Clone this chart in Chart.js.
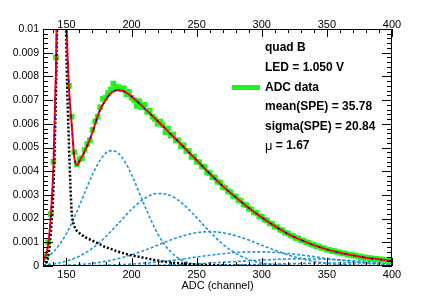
<!DOCTYPE html>
<html>
<head>
<meta charset="utf-8">
<script src="https://cdn.jsdelivr.net/npm/chart.js@4.4.1/dist/chart.umd.min.js"></script>
<style>
  html, body { margin: 0; padding: 0; background: #fff; }
  canvas { display: block; }
</style>
</head>
<body>
<canvas id="adcChart" width="436" height="297"></canvas>
<script>
// channel grid the fit functions are sampled on
var chan = [132, 134, 136, 138, 140, 142, 144, 146, 148, 150, 152, 154, 156, 158, 160,
  165, 170, 175, 180, 185, 190, 195, 200, 210, 220, 230, 240, 250, 260, 270, 280,
  290, 300, 310, 320, 330, 340, 350, 360, 370, 380, 390, 400];

// total fit (red)
var fitTotal = [0.0002, 0.00045, 0.0009, 0.0021, 0.0042, 0.0084, 0.015, 0.019, 0.017, 0.0104,
  0.0075, 0.006, 0.0046, 0.00425, 0.00442, 0.00495, 0.00565, 0.00648, 0.007, 0.00733,
  0.00743, 0.00735, 0.00715, 0.00665, 0.00612, 0.00557, 0.00502, 0.00446, 0.0039, 0.00337,
  0.0029, 0.00245, 0.00205, 0.00168, 0.00136, 0.0011, 0.00088, 0.0007, 0.00056, 0.00045,
  0.00035, 0.00028, 0.00021];

// pedestal (black dotted)
var pedestal = [0, 0.0001, 0.0004, 0.0014, 0.0033, 0.0075, 0.014, 0.018, 0.016, 0.009,
  0.005, 0.0023, 0.0017, 0.00148, 0.00138, 0.0012, 0.00107, 0.00093, 0.0008, 0.0007,
  0.0006, 0.00052, 0.00045, 0.00034, 0.00023, 0.00015, 0.0001, 0.00006, 0.00004, 0.00002,
  0.00001, 0.000005, 0, 0, 0, 0, 0, 0, 0, 0, 0, 0, 0];

// n photo-electron components (light blue dashed)
var pe1 = [0.0002, 0.00033, 0.00041, 0.0005, 0.0006, 0.00072, 0.00086, 0.00101, 0.00118, 0.00137,
  0.00158, 0.0018, 0.00204, 0.00229, 0.00255, 0.00322, 0.00386, 0.00439, 0.00475, 0.00487,
  0.00475, 0.00439, 0.00386, 0.00255, 0.00137, 0.0006, 0.00021, 0.00006, 0.000015, 0,
  0, 0, 0, 0, 0, 0, 0, 0, 0, 0, 0, 0, 0];
var pe2 = [0.000045, 0.000055, 0.000065, 0.000078, 0.000093, 0.00011, 0.00013, 0.000152, 0.000178, 0.000207,
  0.00024, 0.000277, 0.000318, 0.000364, 0.000415, 0.000566, 0.000752, 0.000973, 0.001226, 0.00151,
  0.0018, 0.0021, 0.00239, 0.00285, 0.00306, 0.00297, 0.00259, 0.00204, 0.00145, 0.000926,
  0.000534, 0.000277, 0.00013, 0.000055, 0.000021, 0.000007, 0, 0, 0, 0, 0, 0, 0];
var pe3 = [0.000009, 0.00001, 0.000011, 0.000013, 0.000016, 0.000018, 0.000021, 0.000024, 0.000028, 0.000033,
  0.000037, 0.000042, 0.000048, 0.000056, 0.000064, 0.000086, 0.000115, 0.000151, 0.000196, 0.00025,
  0.000314, 0.000387, 0.000471, 0.000664, 0.00088, 0.001095, 0.00128, 0.001405, 0.00145, 0.001405,
  0.00128, 0.001095, 0.00088, 0.000664, 0.000471, 0.000314, 0.000196, 0.000115, 0.000064, 0.000033,
  0.000016, 0.000007, 0.000003];
var pe4 = [0.000002, 0.000002, 0.000002, 0.000003, 0.000003, 0.000004, 0.000004, 0.000005, 0.000005, 0.000006,
  0.000007, 0.000008, 0.000009, 0.00001, 0.000011, 0.000015, 0.000019, 0.000025, 0.000032, 0.000041,
  0.000052, 0.000066, 0.000081, 0.000121, 0.000171, 0.000233, 0.000304, 0.000379, 0.000453, 0.000518,
  0.000568, 0.000595, 0.000598, 0.000575, 0.000529, 0.000467, 0.000394, 0.000319, 0.000247, 0.000183,
  0.00013, 0.000088, 0.000057];
var pe5 = [0.0000002, 0.0000003, 0.0000004, 0.0000005, 0.0000006, 0.0000007, 0.0000008, 0.0000008, 0.0000009, 0.0000009,
  0.000001, 0.0000011, 0.0000013, 0.0000015, 0.0000017, 0.0000023, 0.000003, 0.000004, 0.0000052, 0.0000068,
  0.0000087, 0.000011, 0.000014, 0.000022, 0.000033, 0.000049, 0.000069, 0.000093, 0.000122, 0.000155,
  0.000189, 0.000222, 0.000253, 0.000277, 0.000294, 0.0003, 0.000296, 0.000281, 0.000258, 0.000229,
  0.000196, 0.000161, 0.000129];
var pe6 = [0, 0, 0, 0, 0, 0, 0, 0, 0, 0, 0, 0, 0, 0, 0, 0.0000004, 0.0000006, 0.0000008, 0.000001, 0.0000012,
  0.0000014, 0.0000018, 0.0000022, 0.0000035, 0.0000055, 0.0000083, 0.0000123, 0.0000176, 0.0000245, 0.000033,
  0.000043, 0.000055, 0.000068, 0.000082, 0.000095, 0.000107, 0.000118, 0.000125, 0.000129, 0.00013,
  0.000126, 0.000119, 0.000109];

// ADC data points (green squares)
var dataChan = [134, 136, 138, 140, 142, 144, 146, 148, 150, 152, 154, 156, 158, 160, 162, 164, 166,
  168, 170, 172, 174, 176, 178, 180, 182, 184, 186, 188, 190, 192, 194, 196, 198, 200, 202, 204,
  206, 208, 210, 212, 214, 216, 218, 220, 222, 224, 226, 228, 230, 232, 234, 236, 238, 240, 242,
  244, 246, 248, 250, 252, 254, 256, 258, 260, 262, 264, 266, 268, 270, 272, 274, 276, 278, 280,
  282, 284, 286, 288, 290, 292, 294, 296, 298, 300, 302, 304, 306, 308, 310, 312, 314, 316, 318,
  320, 322, 324, 326, 328, 330, 332, 334, 336, 338, 340, 342, 344, 346, 348, 350, 352, 354, 356,
  358, 360, 362, 364, 366, 368, 370, 372, 374, 376, 378, 380, 382, 384, 386, 388, 390, 392, 394,
  396, 398, 400];
var dataVal = [0.0004, 0.001, 0.0022, 0.0044, 0.0088, 0.0152, 0.0191, 0.0171, 0.0106, 0.0076,
  0.0063, 0.0048, 0.0043, 0.0045, 0.00455, 0.0049, 0.00515, 0.0053, 0.00575, 0.0061,
  0.0063, 0.0067, 0.00705, 0.0071, 0.0073, 0.00745, 0.0077, 0.0075, 0.00755, 0.00745,
  0.0075, 0.00725, 0.00735, 0.0071, 0.007, 0.00675, 0.00695, 0.0067, 0.0068, 0.0065,
  0.00655, 0.0063, 0.0062, 0.006, 0.0061, 0.00595, 0.00565, 0.0058, 0.0055, 0.00555,
  0.0053, 0.0053, 0.00505, 0.0051, 0.00485, 0.00485, 0.0046, 0.00462, 0.0044, 0.00438,
  0.0042, 0.00418, 0.00395, 0.00392, 0.00375, 0.00373, 0.00355, 0.00352, 0.00333, 0.0033,
  0.00315, 0.00312, 0.00295, 0.00293, 0.00278, 0.00275, 0.0026, 0.00257, 0.00242, 0.00239,
  0.00226, 0.00224, 0.0021, 0.00208, 0.00195, 0.00193, 0.0018, 0.00178, 0.00166, 0.00164,
  0.00153, 0.00151, 0.0014, 0.00138, 0.00129, 0.00127, 0.00118, 0.00117, 0.00108, 0.00107,
  0.001, 0.00098, 0.00091, 0.00089, 0.00083, 0.00082, 0.00076, 0.00075, 0.00069, 0.00068,
  0.00063, 0.00063, 0.00058, 0.00057, 0.00053, 0.00053, 0.00048, 0.00048, 0.00044, 0.00044,
  0.0004, 0.0004, 0.00036, 0.00036, 0.00033, 0.00033, 0.0003, 0.0003, 0.00027, 0.00028,
  0.00024, 0.00025, 0.00022, 0.00021];

var xTicks = [150, 200, 250, 300, 350, 400];
var yTicks = [0, 0.001, 0.002, 0.003, 0.004, 0.005, 0.006, 0.007, 0.008, 0.009, 0.01];
var yTickLabels = ["0", "0.001", "0.002", "0.003", "0.004", "0.005", "0.006", "0.007", "0.008", "0.009", "0.01"];
var infoLines = ["quad B", "LED = 1.050 V", "ADC data", "mean(SPE) = 35.78", "sigma(SPE) = 20.84"];
var muLabel = ["\u03bc", " = 1.67"];

var FONT = '"Liberation Sans", Arial, Helvetica, sans-serif';
var GREEN = "rgb(30,245,30)";
var PE_BLUE = "rgb(30,152,212)";

function pts(xs, ys) {
  return xs.map(function (x, i) { return { x: x, y: ys[i] }; });
}

function peSet(label, vals) {
  return {
    label: label, data: pts(chan, vals), borderColor: PE_BLUE, borderWidth: 1.6,
    borderDash: [3, 2], pointRadius: 0, fill: false, cubicInterpolationMode: "monotone", order: 5
  };
}

// ROOT style frame with inner ticks plus the text box
var rootFrame = {
  id: "rootFrame",
  afterDatasetsDraw: function (chart) {
    var c = chart.ctx, a = chart.chartArea, xs = chart.scales.x, ys = chart.scales.y;
    c.save();
    c.strokeStyle = "#000";
    c.lineWidth = 1;
    c.strokeRect(a.left + 0.5, a.top + 0.5, a.right - a.left - 1, a.bottom - a.top - 1);
    c.beginPath();
    for (var v = 140; v <= 400; v += 10) {
      var px = Math.round(xs.getPixelForValue(v)) + 0.5;
      var len = v % 50 === 0 ? 8 : 4;
      c.moveTo(px, a.bottom); c.lineTo(px, a.bottom - len);
      c.moveTo(px, a.top); c.lineTo(px, a.top + len);
    }
    for (var k = 0; k <= 50; k++) {
      var py = Math.round(ys.getPixelForValue(k * 0.0002)) + 0.5;
      var l = k % 5 === 0 ? 10 : 5;
      c.moveTo(a.left, py); c.lineTo(a.left + l, py);
      c.moveTo(a.right, py); c.lineTo(a.right - l, py);
    }
    c.stroke();

    // info box
    c.fillStyle = "#000";
    c.font = "bold 12px " + FONT;
    c.textBaseline = "middle";
    c.textAlign = "left";
    infoLines.forEach(function (t, i) {
      c.fillText(t, 265, 48 + i * 19.6);
    });
    var muY = 48 + infoLines.length * 19.6;
    c.font = "13px " + FONT;
    c.fillText(muLabel[0], 265, muY);
    var w = c.measureText(muLabel[0]).width;
    c.font = "bold 12px " + FONT;
    c.fillText(muLabel[1], 265 + w, muY);

    c.strokeStyle = GREEN;
    c.lineWidth = 5;
    c.beginPath();
    c.moveTo(232, 87.5);
    c.lineTo(260, 87.5);
    c.stroke();
    c.restore();
  }
};

var ctx = document.getElementById("adcChart").getContext("2d");
var myChart = new Chart(ctx, {
  type: "line",
  data: {
    datasets: [
      {
        label: "fit dots", data: pts(chan, fitTotal), borderColor: "#0000ff", borderWidth: 1.5,
        borderDash: [2, 7], pointRadius: 0, fill: false, cubicInterpolationMode: "monotone", order: 0
      },
      {
        label: "fit", data: pts(chan, fitTotal), borderColor: "#ff0000", borderWidth: 2,
        pointRadius: 0, fill: false, cubicInterpolationMode: "monotone", order: 1
      },
      {
        label: "pedestal", data: pts(chan, pedestal), borderColor: "#000", borderWidth: 2.5,
        borderDash: [2, 2], pointRadius: 0, fill: false, cubicInterpolationMode: "monotone", order: 2
      },
      {
        label: "ADC data", data: pts(dataChan, dataVal), showLine: false, pointStyle: "rect",
        pointRadius: 4, pointBorderWidth: 0, backgroundColor: GREEN, borderColor: GREEN, order: 3
      },
      peSet("1 p.e.", pe1),
      peSet("2 p.e.", pe2),
      peSet("3 p.e.", pe3),
      peSet("4 p.e.", pe4),
      peSet("5 p.e.", pe5),
      peSet("6 p.e.", pe6)
    ]
  },
  options: {
    responsive: false,
    animation: false,
    layout: { padding: { left: 0, right: 44, top: 0, bottom: 0 } },
    plugins: { legend: { display: false }, tooltip: { enabled: false } },
    scales: {
      x: {
        type: "linear", position: "bottom", min: 132, max: 400,
        afterBuildTicks: function (s) { s.ticks = xTicks.map(function (v) { return { value: v }; }); },
        afterFit: function (s) { s.height = 31; },
        grid: { display: false, drawTicks: false },
        border: { display: false },
        ticks: { color: "#000", font: { family: FONT, size: 11 }, padding: 2, maxRotation: 0, autoSkip: false },
        title: { display: true, text: "ADC (channel)", color: "#000", font: { family: FONT, size: 11 }, padding: { top: 0, bottom: 4 } }
      },
      xTop: {
        type: "linear", position: "top", min: 132, max: 400,
        afterBuildTicks: function (s) { s.ticks = xTicks.map(function (v) { return { value: v }; }); },
        afterFit: function (s) { s.height = 29; },
        grid: { display: false, drawTicks: false },
        border: { display: false },
        ticks: { color: "#000", font: { family: FONT, size: 11 }, padding: -3, maxRotation: 0, autoSkip: false }
      },
      y: {
        type: "linear", position: "left", min: 0, max: 0.01,
        afterBuildTicks: function (s) { s.ticks = yTicks.map(function (v) { return { value: v }; }); },
        afterFit: function (s) { s.width = 43; },
        grid: { display: false, drawTicks: false },
        border: { display: false },
        ticks: {
          color: "#000", font: { family: FONT, size: 10.5 }, padding: 4, autoSkip: false,
          callback: function (v, i) { return yTickLabels[i]; }
        }
      }
    }
  },
  plugins: [rootFrame]
});
</script>
</body>
</html>
